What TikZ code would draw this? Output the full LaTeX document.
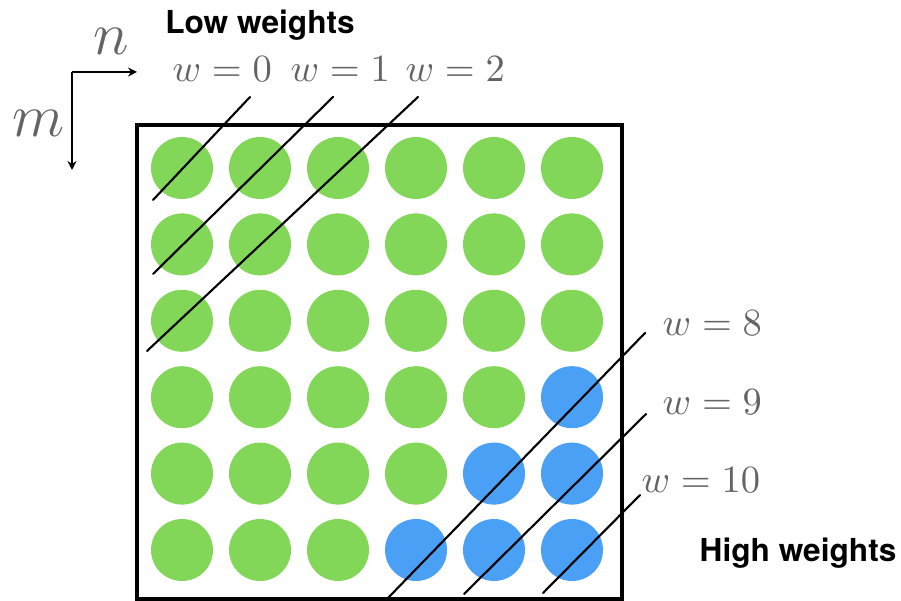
\documentclass[tikz,border=0pt]{standalone}
\usepackage{fontspec}
\newfontfamily\herosfont{TeX Gyre Heros}
\usetikzlibrary{arrows.meta,positioning}
\definecolor{lowgreen}{RGB}{130,214,88}
\definecolor{highblue}{RGB}{74,160,245}
\definecolor{labelgray}{RGB}{100,100,100}
\tikzset{
  weight dot/.style={circle,fill=#1,minimum size=6.2mm,inner sep=0pt},
  diag line/.style={line width=0.6pt,line cap=round},
  weight label/.style={text=labelgray,font=\fontsize{11}{13}\selectfont,
    inner sep=0pt,anchor=base west},
  axis label/.style={text=labelgray,font=\fontsize{16}{18}\selectfont,
    inner sep=0pt,anchor=base west},
  axis arrow/.style={-{Stealth[length=0.9mm,width=0.9mm]},line width=0.5pt},
  side title/.style={font=\herosfont\bfseries\fontsize{9}{11}\selectfont,
    inner sep=0pt}
}

\begin{document}
\begin{tikzpicture}[x=0.1mm,y=-0.1mm]
     \useasboundingbox (0,0) rectangle (901,601);
     % grid of weights
     \foreach \i in {1,...,6}
       \foreach \j in {1,...,6} {
         \pgfmathtruncatemacro\wsum{\i+\j}
         \ifnum\wsum>9 \def\dotcol{highblue}\else\def\dotcol{lowgreen}\fi
         \node[weight dot=\dotcol] (dot-\i-\j)
           at ({182+78*(\j-1)},{168+76.4*(\i-1)}) {};
       }
     \draw[line width=1.3pt] (137,125) rectangle (622,599);
     % anti-diagonals
     \coordinate (lowzero-a) at (153,200);  \coordinate (lowzero-b) at (250,97);
     \coordinate (lowone-a) at (153,274);   \coordinate (lowone-b) at (333,97);
     \coordinate (lowtwo-a) at (147,351);   \coordinate (lowtwo-b) at (418,97);
     \coordinate (higheight-a) at (387,599); \coordinate (higheight-b) at (645,333);
     \coordinate (highnine-a) at (464,594);  \coordinate (highnine-b) at (646,414);
     \coordinate (highten-a) at (543,593);   \coordinate (highten-b) at (640,495);
     \foreach \d in {lowzero,lowone,lowtwo,higheight,highnine,highten}
       \draw[diag line] (\d-a) -- (\d-b);
     \node[weight label] (label-zero) at (172,82) {$w=0$};
     \node[weight label] (label-one) at (290,82) {$w=1$};
     \node[weight label] (label-two) at (405,82) {$w=2$};
     \node[weight label] (label-eight) at (662,336) {$w=8$};
     \node[weight label] (label-nine) at (662,415) {$w=9$};
     \node[weight label] (label-ten) at (641,493) {$w=10$};
     % axes
     \coordinate (axis-corner) at (72,72);
     \coordinate (axis-right) at (137,72);
     \coordinate (axis-down) at (72,170);
     \draw[axis arrow] (axis-corner) -- (axis-right);
     \draw[axis arrow] (axis-corner) -- (axis-down);
     \node[axis label] (label-n) at (93,55) {$n$};
     \node[axis label] (label-m) at (12,137) {$m$};
     \node[side title] (low-title) at (260,25) {Low weights};
     \node[side title] (high-title) at (798,553) {High weights};
   \end{tikzpicture}
\end{document}
